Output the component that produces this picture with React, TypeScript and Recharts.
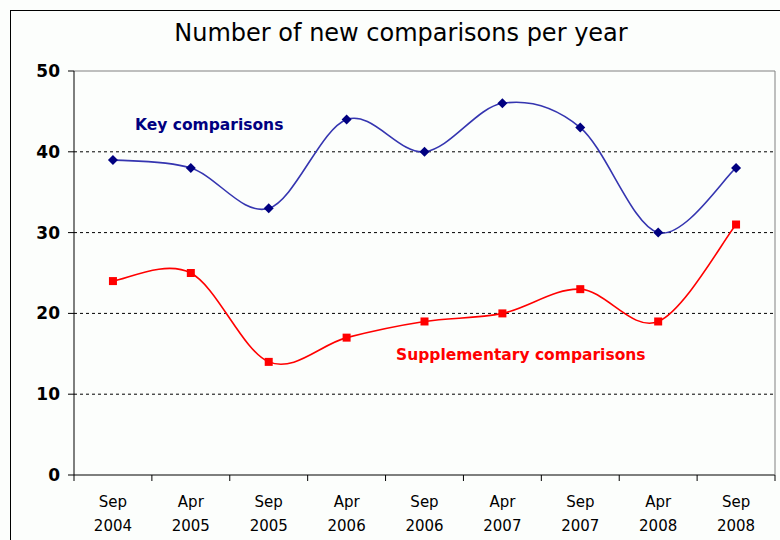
import React from "react";
import { CartesianGrid, Line, LineChart, ReferenceLine, XAxis, YAxis } from "recharts";

const periods = ["Sep 2004", "Apr 2005", "Sep 2005", "Apr 2006", "Sep 2006", "Apr 2007", "Sep 2007", "Apr 2008", "Sep 2008"];
const keyComparisons = [39, 38, 33, 44, 40, 46, 43, 30, 38];
const supplementaryComparisons = [24, 25, 14, 17, 19, 20, 23, 19, 31];
const yTicks = [0, 10, 20, 30, 40, 50];
const gridValues = [10, 20, 30, 40];

const data = periods.map((period, i) => ({
  period,
  key: keyComparisons[i],
  supp: supplementaryComparisons[i],
}));

const W = 780;
const H = 540;
const margin = { top: 71, right: 0, bottom: 0, left: 14 };
const yAxisWidth = 60;
const rightAxisWidth = 5;
const plotWidth = W - margin.left - yAxisWidth - rightAxisWidth - margin.right;
const step = plotWidth / periods.length;

const font = "'DejaVu Sans', Verdana, sans-serif";

// Excel style smoothing (cardinal spline, tension 0)
const excelCurve = (context: any) => {
  let pts: number[][] = [];
  return {
    areaStart() {},
    areaEnd() {},
    lineStart() {
      pts = [];
    },
    lineEnd() {
      if (!pts.length) return;
      context.moveTo(pts[0][0], pts[0][1]);
      for (let i = 0; i < pts.length - 1; i++) {
        const p0 = pts[i - 1] || pts[i];
        const p1 = pts[i];
        const p2 = pts[i + 1];
        const p3 = pts[i + 2] || p2;
        context.bezierCurveTo(
          p1[0] + (p2[0] - p0[0]) / 6,
          p1[1] + (p2[1] - p0[1]) / 6,
          p2[0] - (p3[0] - p1[0]) / 6,
          p2[1] - (p3[1] - p1[1]) / 6,
          p2[0],
          p2[1]
        );
      }
    },
    point(x: number, y: number) {
      pts.push([x, y]);
    },
  };
};

const XTick = (props: any) => {
  const { x, y, payload, index } = props;
  const [month, year] = String(payload.value).split(" ");
  const last = index === periods.length - 1;
  return (
    <g>
      <line x1={x - step / 2} x2={x - step / 2} y1={y - 8} y2={y - 2} stroke="#000" />
      {last && <line x1={x + step / 2} x2={x + step / 2} y1={y - 8} y2={y - 2} stroke="#000" />}
      <text x={x} y={y + 24} textAnchor="middle" fontFamily={font} fontSize={15} fill="#000">
        {month}
      </text>
      <text x={x} y={y + 48} textAnchor="middle" fontFamily={font} fontSize={15} fill="#000">
        {year}
      </text>
    </g>
  );
};

const Diamond = (props: any) => {
  const { cx, cy, index } = props;
  if (cx == null || cy == null) return <g key={index} />;
  return <polygon key={index} points={`${cx},${cy - 5} ${cx + 5},${cy} ${cx},${cy + 5} ${cx - 5},${cy}`} fill="#000080" />;
};

const Square = (props: any) => {
  const { cx, cy, index } = props;
  if (cx == null || cy == null) return <g key={index} />;
  return <rect key={index} x={cx - 4} y={cy - 4} width={8} height={8} fill="#ff0000" />;
};

export default function App() {
  return (
    <div style={{ position: "fixed", left: 0, top: 0, width: W, height: H, background: "#fcfefc", overflow: "hidden" }}>
      <div style={{ position: "absolute", left: 10, top: 10, width: 900, height: 700, borderLeft: "1px solid #000", borderTop: "1px solid #000" }} />
      <div style={{ position: "absolute", left: 0, top: 0 }}>
        <LineChart width={W} height={H} data={data} margin={margin}>
          <CartesianGrid vertical={false} horizontal={false} />
          <XAxis
            dataKey="period"
            height={H - margin.top - 404}
            padding={{ left: step / 2, right: step / 2 }}
            axisLine={{ stroke: "#000" }}
            tickLine={false}
            interval={0}
            tick={<XTick />}
          />
          <YAxis
            domain={[0, 50]}
            ticks={yTicks}
            width={yAxisWidth}
            axisLine={{ stroke: "#000" }}
            tickLine={{ stroke: "#000" }}
            tickSize={6}
            tick={{ fill: "#000", fontFamily: font, fontSize: 17, fontWeight: "bold" }}
            tickMargin={8}
          />
          <YAxis
            yAxisId="r"
            orientation="right"
            domain={[0, 50]}
            width={rightAxisWidth}
            tick={false}
            tickLine={false}
            axisLine={{ stroke: "#808080" }}
          />
          <ReferenceLine y={50} stroke="#808080" />
          {gridValues.map((v) => (
            <ReferenceLine key={v} y={v} stroke="#000" strokeDasharray="3 3" />
          ))}
          <Line dataKey="key" type={excelCurve as any} stroke="#3535b0" strokeWidth={1.6} dot={<Diamond />} activeDot={false} isAnimationActive={false} />
          <Line dataKey="supp" type={excelCurve as any} stroke="#ff0000" strokeWidth={1.6} dot={<Square />} activeDot={false} isAnimationActive={false} />
        </LineChart>
      </div>
      <div style={{ position: "absolute", left: 0, width: W, top: 19, textAlign: "center", paddingLeft: 22, boxSizing: "border-box", fontFamily: font, fontSize: 24, color: "#000" }}>
        Number of new comparisons per year
      </div>
      <div style={{ position: "absolute", left: 135, top: 116, fontFamily: font, fontSize: 15.5, fontWeight: "bold", color: "#000080" }}>
        Key comparisons
      </div>
      <div style={{ position: "absolute", left: 396, top: 346, fontFamily: font, fontSize: 15.5, fontWeight: "bold", color: "#ff0000" }}>
        Supplementary comparisons
      </div>
    </div>
  );
}
